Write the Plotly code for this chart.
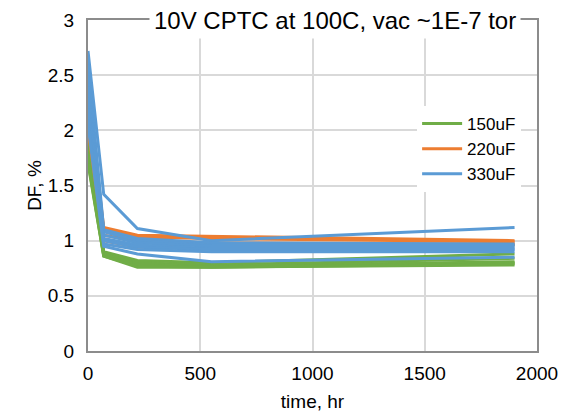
import plotly.graph_objects as go

time_hr = [0, 70, 220, 550, 1900]

df_150uF = [
    [1.95, 0.90, 0.82, 0.80, 0.88],
    [1.85, 0.89, 0.80, 0.78, 0.84],
    [1.80, 0.88, 0.79, 0.77, 0.81],
    [1.75, 0.87, 0.78, 0.77, 0.80],
    [1.72, 0.86, 0.77, 0.76, 0.79],
    [1.70, 0.86, 0.76, 0.76, 0.78],
]
df_220uF = [
    [2.30, 1.12, 1.05, 1.04, 1.00],
    [2.15, 1.10, 1.03, 1.02, 0.99],
    [2.05, 1.05, 1.00, 0.98, 0.97],
    [2.00, 1.00, 0.94, 0.97, 0.96],
]
df_330uF = [
    [2.72, 1.42, 1.11, 1.00, 1.12],
    [2.60, 1.10, 1.02, 0.98, 0.97],
    [2.50, 1.08, 1.00, 0.96, 0.96],
    [2.40, 1.05, 0.98, 0.95, 0.95],
    [2.30, 1.02, 0.96, 0.93, 0.93],
    [2.20, 1.00, 0.94, 0.92, 0.92],
    [2.10, 0.97, 0.92, 0.90, 0.90],
    [2.05, 0.95, 0.88, 0.81, 0.85],
]

groups = [
    ("150uF", "#70ad47", df_150uF),
    ("220uF", "#ed7d31", df_220uF),
    ("330uF", "#5b9bd5", df_330uF),
]

fig = go.Figure()
for name, color, series in groups:
    for i, vals in enumerate(series):
        fig.add_trace(go.Scatter(
            x=time_hr, y=vals, mode="lines", name=name,
            legendgroup=name, showlegend=(i == 0),
            line=dict(color=color, width=3),
        ))

font_family = "Liberation Sans, Arial, sans-serif"
fig.update_layout(
    width=561, height=413,
    margin=dict(l=88, r=24, t=20, b=62),
    paper_bgcolor="white", plot_bgcolor="white",
    font=dict(family=font_family, size=17, color="#000000"),
    showlegend=True,
    legend=dict(x=0.733, y=0.74, xanchor="left", yanchor="top",
                bgcolor="white", font=dict(family=font_family, size=17),
                tracegroupgap=0, itemwidth=40),
    xaxis=dict(range=[0, 2000], dtick=500, showgrid=True, gridcolor="#d9d9d9",
               gridwidth=1.5, showline=True, linecolor="#8c8c8c", linewidth=2,
               mirror=True, zeroline=False, ticks="", ticklen=0,
               automargin=False,
               tickfont=dict(family=font_family, size=19), ticklabelstandoff=4,
               title=dict(text="time, hr", standoff=12,
                          font=dict(family=font_family, size=19))),
    yaxis=dict(range=[0, 3], dtick=0.5, showgrid=True, gridcolor="#d9d9d9",
               gridwidth=1.5, showline=True, linecolor="#8c8c8c", linewidth=2,
               mirror=True, zeroline=False, ticks="", ticklen=0,
               automargin=False,
               tickfont=dict(family=font_family, size=19), ticklabelstandoff=8,
               title=dict(text="DF, %", standoff=1,
                          font=dict(family=font_family, size=19))),
    annotations=[dict(
        text="10V CPTC at 100C, vac ~1E-7 tor", x=0.55, y=1.0,
        xref="paper", yref="paper", xanchor="center", yanchor="middle",
        showarrow=False, bgcolor="white", borderpad=4,
        font=dict(family=font_family, size=24, color="#000000"),
    )],
)

fig.write_html("out.html")
